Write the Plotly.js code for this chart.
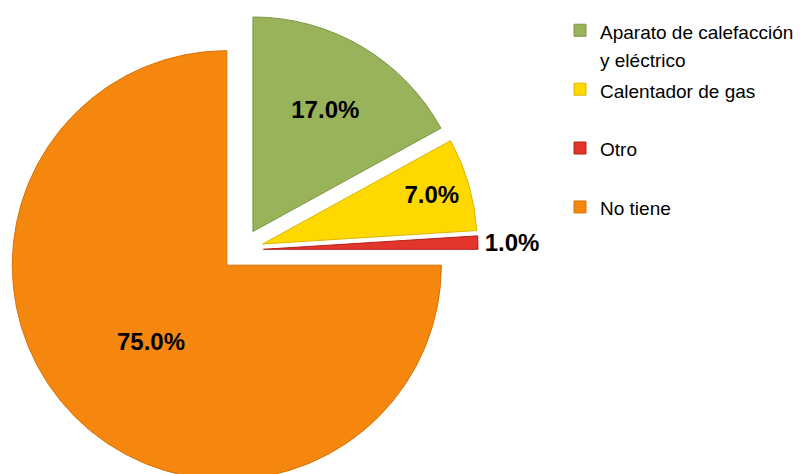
<!DOCTYPE html>
<html>
<head>
<meta charset="utf-8">
<script src="https://cdn.plot.ly/plotly-3.0.1.min.js"></script>
<style>
html,body{margin:0;padding:0;overflow:hidden;background:#fff;}
#chart{width:800px;height:498px;}
</style>
</head>
<body>
<div id="chart"></div>
<script>
// Data
var categories = [
  "Aparato de calefacción<br>y eléctrico",
  "Calentador de gas<br>\u00a0",
  "Otro<br>\u00a0",
  "No tiene"
];
var values = [17.0, 7.0, 1.0, 75.0];

var sliceColors = ["#98B35A", "#FFD800", "#E2352B", "#F5870F"];
var edgeColors  = ["#7E9646", "#D9B800", "#B8221B", "#D7730A"];
var labelPositions = ["inside", "inside", "outside", "inside"];

var labelFont = "'Liberation Sans Narrow', 'Arial Narrow', 'Liberation Sans', Arial, sans-serif";

var legendLabels = categories.map(function (c) {
  return c.split("<br>").map(function (line) {
    return '<span style="font-size:19px">' + line + '</span>';
  }).join("<br>");
});

var trace = {
  type: "pie",
  labels: legendLabels,
  values: values,
  sort: false,
  direction: "clockwise",
  rotation: 0,
  pull: [0.1, 0.1, 0.1, 0.1],
  marker: { colors: sliceColors, line: { color: edgeColors, width: 1 } },
  texttemplate: "%{percent:.1%}",
  textposition: labelPositions,
  insidetextorientation: "horizontal",
  textfont: { family: labelFont, size: 24, color: "#000000", weight: "bold" },
  hoverinfo: "label+percent",
  domain: { x: [0.0075, 0.5975], y: [0, 1] }
};

var layout = {
  width: 800,
  height: 498,
  margin: { l: 0, r: 0, t: 14, b: 12, autoexpand: false },
  paper_bgcolor: "#ffffff",
  showlegend: true,
  legend: {
    x: 0.7, xanchor: "left",
    y: 1.009, yanchor: "top",
    valign: "top",
    font: { family: "'Liberation Sans', Arial, sans-serif", size: 21.5, color: "#000000" },
    bgcolor: "rgba(0,0,0,0)",
    traceorder: "normal"
  }
};

Plotly.newPlot("chart", [trace], layout, { displayModeBar: false, staticPlot: true });
</script>
</body>
</html>
